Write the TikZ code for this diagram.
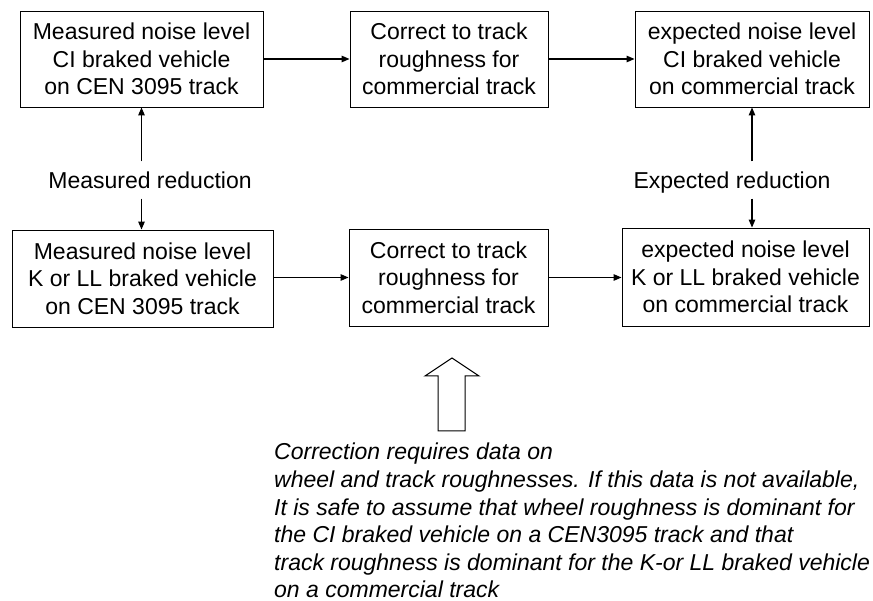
\documentclass[tikz,border=0pt]{standalone}
\usepackage{fontspec}
\setmainfont{Liberation Sans}
\usetikzlibrary{arrows.meta,positioning}

\tikzset{
    box/.style={draw, line width=0.9pt, align=center, inner sep=0pt,
        font=\fontsize{23}{27.5}\selectfont},
    arr/.style={line width=1.2pt, -{Triangle[length=8pt,width=6.5pt]}},
    lbl/.style={font=\fontsize{23}{27.5}\selectfont, text depth=0pt,
        inner xsep=0pt, inner ysep=10pt},
    note/.style={font=\itshape\fontsize{23}{27.6}\selectfont, align=left, inner sep=0pt}
}

\begin{document}
\begin{tikzpicture}[x=1pt,y=-1pt]
\useasboundingbox (0,0) rectangle (873,601);
\clip (0,0) rectangle (873,601);

% Top row (CI braked vehicle)
\node[box, minimum width=243pt, minimum height=96pt] (ciMeas) at (141.5,59)
    {Measured noise level\\CI braked vehicle\\on CEN 3095 track};
\node[box, minimum width=198pt, minimum height=96pt] (ciCorr) at (449,59)
    {Correct to track\\roughness for\\commercial track};
\node[box, minimum width=234pt, minimum height=96pt] (ciExp) at (752,59)
    {expected noise level\\CI braked vehicle\\on commercial track};

% Bottom row (K or LL braked vehicle)
\node[box, minimum width=261pt, minimum height=97pt] (kMeas) at (142.5,278.5)
    {Measured noise level\\K or LL braked vehicle\\on CEN 3095 track};
\node[box, minimum width=199pt, minimum height=97pt] (kCorr) at (448.5,277.5)
    {Correct to track\\roughness for\\commercial track};
\node[box, minimum width=247pt, minimum height=98pt] (kExp) at (745.5,277)
    {expected noise level\\K or LL braked vehicle\\on commercial track};

% Reductions
\node[lbl] (measRed) at (150,180) {Measured reduction};
\node[lbl] (expRed) at (732,180) {Expected reduction};

% Connectors
\draw[arr] (ciMeas) -- (ciCorr);
\draw[arr] (ciCorr) -- (ciExp);
\draw[arr] (kMeas.east |- kCorr) -- (kCorr);
\draw[arr] (kCorr) -- (kExp.west |- kCorr);

\draw[arr] (measRed.north -| ciMeas.south) -- (ciMeas.south);
\draw[arr] (measRed.south -| ciMeas.south) -- (kMeas.north -| ciMeas.south);
\draw[arr] (expRed.north -| ciExp.south) -- (ciExp.south);
\draw[arr] (expRed.south -| ciExp.south) -- (kExp.north -| ciExp.south);

% Hollow arrow towards the correction
\draw[line width=1pt] (438,431) -- (438,376) -- (425,376) -- (452,358)
    -- (479,376) -- (465,376) -- (465,431) -- cycle;

% Note
\node[note, anchor=north west] (corrNote) at (274,443)
    {Correction requires data on\\
     wheel and track roughnesses. If this data is not available,\\
     It is safe to assume that wheel roughness is dominant for\\
     the CI braked vehicle on a CEN3095 track and that\\
     track roughness is dominant for the K-or LL braked vehicle\\
     on a commercial track};

\end{tikzpicture}
\end{document}
